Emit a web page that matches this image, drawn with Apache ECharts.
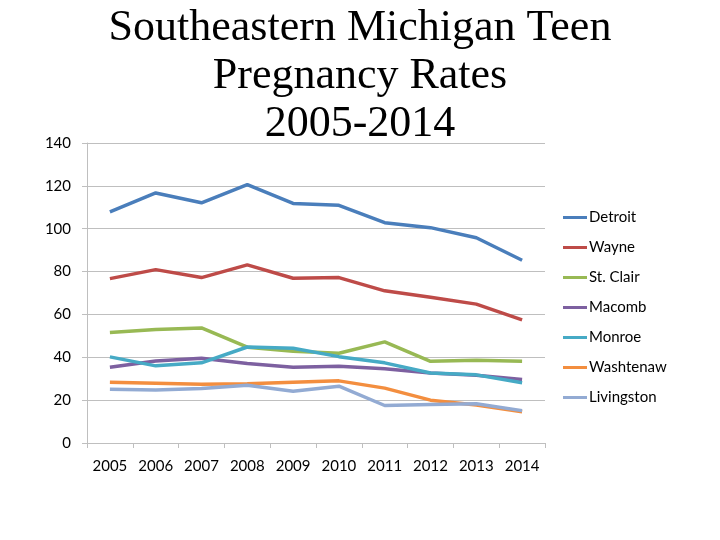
<!DOCTYPE html>
<html><head><meta charset="utf-8">
<script src="https://cdn.jsdelivr.net/npm/echarts@6/dist/echarts.min.js"></script>
<style>html,body{margin:0;padding:0;background:#fff}#c{width:720px;height:540px}</style>
</head><body><div id="c"></div>
<script>
const years = ['2005','2006','2007','2008','2009','2010','2011','2012','2013','2014'];
const detroit    = [107.9,116.7,112.1,120.6,111.8,110.9,102.8,100.5,95.8,85.3];
const wayne      = [76.7,80.9,77.2,83.1,76.9,77.2,71.0,68.0,64.8,57.5];
const stClair    = [51.6,53.0,53.7,44.7,42.8,41.9,47.2,38.1,38.6,38.1];
const macomb     = [35.3,38.3,39.5,37.1,35.3,35.8,34.6,32.7,31.6,29.6];
const monroe     = [40.2,36.0,37.4,44.8,44.2,40.3,37.4,32.7,31.8,28.1];
const washtenaw  = [28.4,27.9,27.4,27.6,28.4,29.0,25.6,20.0,17.7,14.6];
const livingston = [25.1,24.7,25.4,27.0,24.2,26.5,17.5,18.0,18.3,15.1];
const yTicks = [0,20,40,60,80,100,120,140];

const names = ['Detroit','Wayne','St. Clair','Macomb','Monroe','Washtenaw','Livingston'];
const datas = [detroit,wayne,stClair,macomb,monroe,washtenaw,livingston];
const colors = ['#4A7EBB','#BE4B48','#98B954','#7D60A0','#46AAC5','#F38E3F','#93ABD3'];

const chart = echarts.init(document.getElementById('c'), null, {renderer:'canvas'});
chart.setOption({
  animation:false,
  backgroundColor:'#fff',
  title:{
    text:'Southeastern Michigan Teen\nPregnancy Rates\n2005-2014',
    left:'center', top:-1,
    textStyle:{fontFamily:'Liberation Serif', fontSize:44, fontWeight:'normal', color:'#000', lineHeight:48}
  },
  legend:{
    orient:'vertical', left:558, top:205,
    itemWidth:24, itemHeight:3, itemGap:15,
    icon:'rect',
    textStyle:{fontFamily:'Lato', fontSize:15, color:'#000', padding:[0,0,0,-3]},
    data:names
  },
  grid:{left:87, right:175, top:143, bottom:97},
  xAxis:{
    type:'category', data:years, boundaryGap:true,
    axisLine:{lineStyle:{color:'#BFBFBF', width:1}},
    axisTick:{show:true, length:5, lineStyle:{color:'#BFBFBF'}},
    axisLabel:{fontFamily:'Lato', fontSize:15, color:'#000', margin:16, interval:0}
  },
  yAxis:{
    type:'value', min:0, max:140, interval:20,
    axisLine:{show:true, lineStyle:{color:'#BFBFBF', width:1}},
    axisTick:{show:true, length:5, lineStyle:{color:'#BFBFBF'}},
    axisLabel:{fontFamily:'Lato', fontSize:15, color:'#000', margin:16,
      formatter:v=> yTicks.includes(v)? String(v):''},
    splitLine:{lineStyle:{color:'#BFBFBF', width:1}}
  },
  series: names.map((n,i)=>({
    name:n, type:'line', data:datas[i], showSymbol:false, symbol:'none',
    lineStyle:{color:colors[i], width:3.5}, itemStyle:{color:colors[i]}
  }))
});
</script></body></html>
